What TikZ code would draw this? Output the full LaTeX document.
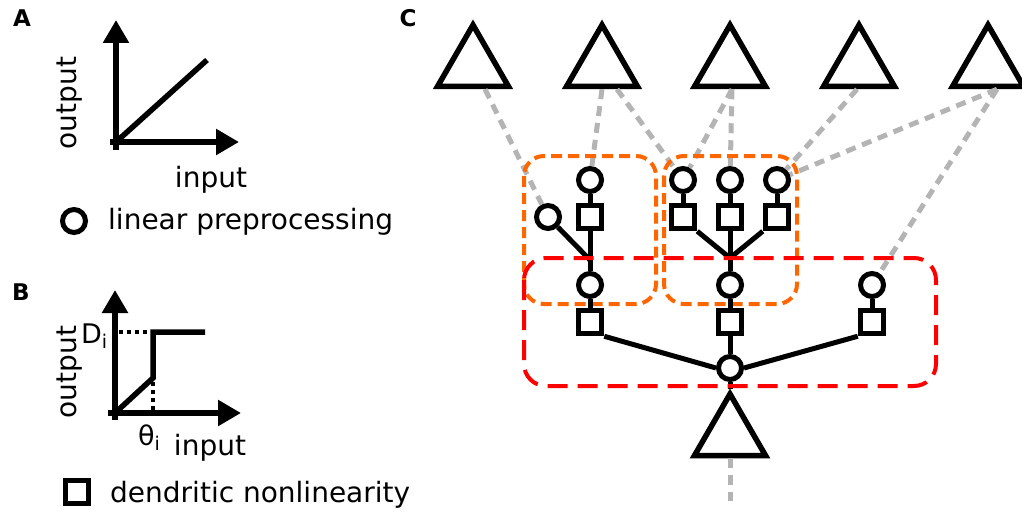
\documentclass[tikz,border=0pt]{standalone}
\usepackage{fontspec}
\setmainfont{DejaVu Sans}
\usetikzlibrary{arrows.meta,shapes.geometric}
\definecolor{orng}{RGB}{255,102,0}
\definecolor{gry}{RGB}{180,180,180}
\tikzset{
  neuron/.style={regular polygon, regular polygon sides=3, draw, line width=5.5pt, fill=white, inner sep=0pt, minimum size=82pt},
  lin/.style={circle, draw, line width=5pt, fill=white, inner sep=0pt, minimum size=23pt},
  nl/.style={rectangle, draw, line width=5pt, fill=white, inner sep=0pt, minimum size=23.5pt},
  wire/.style={line width=5pt},
  syn/.style={draw=gry, line width=5pt, dash pattern=on 10pt off 7pt},
  subA/.style={draw=orng, line width=4pt, dash pattern=on 11pt off 6pt, rounded corners=20pt},
  subB/.style={draw=red, line width=4pt, dash pattern=on 20pt off 10pt, rounded corners=22pt},
  axis/.style={line width=5.5pt, -{Triangle[length=23pt,width=25pt]}},
  curve/.style={line width=5.5pt},
  guide/.style={line width=4pt, dash pattern=on 4pt off 4pt},
  lbl/.style={font=\fontsize{28}{34}\selectfont, inner sep=0pt},
  small/.style={font=\fontsize{27}{32}\selectfont, inner sep=0pt},
  panel/.style={font=\fontsize{23}{27}\selectfont\bfseries, inner sep=0pt},
}
\begin{document}
\begin{tikzpicture}[x=1pt,y=-1pt]
\useasboundingbox (0,0) rectangle (1022,516);

% ---------- Panel A ----------
\node[panel, anchor=base] (pA) at (22,27) {A};
\draw[axis] (116,150) -- (116,20);
\draw[axis] (110,142) -- (239,142);
\draw[curve] (116,142) -- (207,60);
\node[lbl, rotate=90] (outA) at (70,103) {output};
\node[lbl, anchor=base] (inA) at (211,187) {input};
\node[lin] (legC) at (74,221) {};
\node[lbl, anchor=base west] (legCt) at (108,229) {linear preprocessing};

% ---------- Panel B ----------
\node[panel, anchor=base] (pB) at (21,300) {B};
\draw[axis] (115,420) -- (115,290);
\draw[axis] (108,413) -- (241,413);
\draw[curve] (115,413) -- (153,378) -- (153,332) -- (205,332);
\draw[guide] (119,332) -- (149,332);
\draw[guide] (153,382) -- (153,410);
\node[lbl, rotate=90] (outB) at (70,372) {output};
\node[small, anchor=base west] (Dlab) at (81,343) {D\textsubscript{i}};
\node[small, anchor=base west] (Tlab) at (138,445) {θ\textsubscript{i}};
\node[lbl, anchor=base] (inB) at (210,455) {input};
\node[nl] (legS) at (77,492) {};
\node[lbl, anchor=base west] (legSt) at (110,502) {dendritic nonlinearity};

% ---------- Panel C ----------
\node[panel, anchor=base] (pC) at (408,27) {C};
\node[neuron] (t1) at (473,66) {};
\node[neuron] (t2) at (602,66) {};
\node[neuron] (t3) at (730,66) {};
\node[neuron] (t4) at (859,66) {};
\node[neuron] (t5) at (988,66) {};

\node[lin] (cL) at (548,217) {};
\node[lin] (ct1) at (590,180) {};
\node[lin] (ct2) at (683,180) {};
\node[lin] (ct3) at (730,180) {};
\node[lin] (ct4) at (777,180) {};
\node[nl] (sq1) at (590,217) {};
\node[nl] (sq2) at (683,217) {};
\node[nl] (sq3) at (730,217) {};
\node[nl] (sq4) at (777,217) {};
\coordinate (J1) at (590,260);
\coordinate (J2) at (730,258);
\node[lin] (b1) at (590,285) {};
\node[lin] (b2) at (730,285) {};
\node[lin] (b3) at (872,285) {};
\node[nl] (q1) at (590,322) {};
\node[nl] (q2) at (730,322) {};
\node[nl] (q3) at (872,322) {};
\node[lin] (r) at (730,368) {};
\node[neuron] (tb) at (730,435) {};
\coordinate (out) at (730,501);

% synapses
\draw[syn] ([xshift=12pt]t1.south) -- (cL);
\draw[syn] (t2.south) -- (ct1);
\draw[syn] ([xshift=15pt]t2.south) -- (ct2);
\draw[syn] ([xshift=2pt]t3.south) -- (ct2);
\draw[syn] ([xshift=2pt]t3.south) -- (ct3);
\draw[syn] ([xshift=-2pt]t4.south) -- (ct4);
\draw[syn] ([xshift=9pt]t5.south) -- (ct4);
\draw[syn] ([xshift=9pt]t5.south) -- (b3);
\draw[syn] (tb.south) -- (out);

% subunit boxes (orange)
\draw[subA] (524,156) rectangle (656,304);
\draw[subA] (664,156) rectangle (797,304);

% dendritic wires
\draw[wire] (ct1) -- (sq1);
\draw[wire] (cL) -- (J1);
\draw[wire] (sq1) -- (J1) -- (b1);
\draw[wire] (ct2) -- (sq2);
\draw[wire] (ct3) -- (sq3);
\draw[wire] (ct4) -- (sq4);
\draw[wire] (sq2.south east) -- (J2);
\draw[wire] (sq4.south west) -- (J2);
\draw[wire] (sq3) -- (J2) -- (b2);
\draw[wire] (b1) -- (q1);
\draw[wire] (b2) -- (q2);
\draw[wire] (b3) -- (q3);
\draw[wire] (q1.south east) -- (r.west);
\draw[wire] (q2) -- (r);
\draw[wire] (q3.south west) -- (r.east);
\draw[wire] (r) -- (tb);

% red box
\draw[subB] (524,258) rectangle (936,386);
\end{tikzpicture}
\end{document}
